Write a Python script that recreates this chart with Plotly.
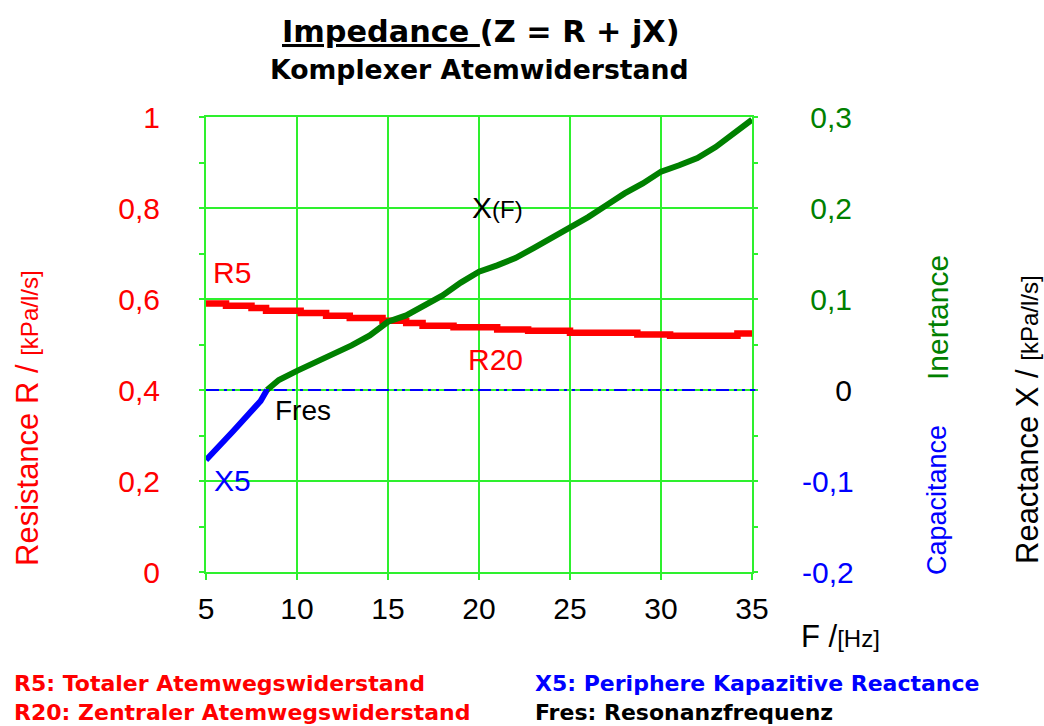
import plotly.graph_objects as go

# ---------------- data ----------------
# Resistance R (left axis, kPa/l/s), step curve
freq_r = [5.0, 6.1, 7.5, 8.3, 10.2, 11.6, 12.9, 14.7, 16.0, 16.9, 18.6, 21.0, 22.7, 25.0, 28.7, 30.5, 34.2, 35.0]
r_values = [0.590, 0.585, 0.580, 0.574, 0.569, 0.563, 0.558, 0.552, 0.547, 0.541, 0.538, 0.533, 0.530, 0.526, 0.522, 0.519, 0.524, 0.524]

# Reactance X (right axis, kPa/l/s): capacitive part (negative)
freq_x5 = [5.0, 5.5, 6.0, 6.5, 7.0, 7.5, 8.0, 8.35]
x5_values = [-0.077, -0.067, -0.056, -0.045, -0.034, -0.023, -0.012, 0.0]

# Reactance X: inertive part (positive)
freq_xf = [8.35, 9, 10, 11, 12, 13, 14, 15, 16, 17, 18, 19, 20, 21, 22, 23, 24, 25,
           26, 27, 28, 29, 30, 31, 32, 33, 34, 35]
xf_values = [0.0, 0.011, 0.021, 0.030, 0.040, 0.049, 0.060, 0.075, 0.082, 0.093, 0.104,
             0.118, 0.130, 0.137, 0.145, 0.156, 0.167, 0.178, 0.190, 0.203, 0.216,
             0.227, 0.240, 0.247, 0.255, 0.267, 0.282, 0.297]

x_ticks = [5, 10, 15, 20, 25, 30, 35]
r_ticks = [0, 0.2, 0.4, 0.6, 0.8, 1.0]
r_tick_labels = ["0", "0,2", "0,4", "0,6", "0,8", "1"]
x_ticks_right = [-0.2, -0.1, 0, 0.1, 0.2, 0.3]
x_tick_labels_right = ["-0,2", "-0,1", "\u2007\u00a0\u00a00", "\u00a00,1", "\u00a00,2", "\u00a00,3"]
x_tick_colors_right = ["#0000ff", "#0000ff", "#000000", "#008000", "#008000", "#008000"]

# ---------------- style ----------------
FONT = "Liberation Sans, Arial, sans-serif"
BOLD = "DejaVu Sans, sans-serif"
GRID = "#2ef02e"
RED = "#ff0000"
GREEN = "#008000"
BLUE = "#0000ff"

fig = go.Figure()

fig.add_trace(go.Scatter(x=freq_r, y=r_values, mode="lines", line=dict(color=RED, width=6.5, shape="hv"),
                         yaxis="y", showlegend=False))
fig.add_trace(go.Scatter(x=freq_x5, y=x5_values, mode="lines", line=dict(color=BLUE, width=6),
                         yaxis="y2", showlegend=False))
fig.add_trace(go.Scatter(x=freq_xf, y=xf_values, mode="lines", line=dict(color=GREEN, width=6),
                         yaxis="y2", showlegend=False))

# zero line of reactance
fig.add_shape(type="line", xref="x domain", x0=0, x1=1.006, yref="y2", y0=0, y1=0,
              line=dict(color=BLUE, width=2, dash="13px,5px,3px,5px,3px,5px"))

right_text = [f'<span style="color:{c}">{t}</span>' for t, c in zip(x_tick_labels_right, x_tick_colors_right)]

fig.update_layout(
    width=1044, height=726,
    margin=dict(l=206, r=292, t=117, b=154),
    paper_bgcolor="white", plot_bgcolor="white",
    font=dict(family=FONT, size=30, color="black"),
    xaxis=dict(range=[5, 35], tickvals=x_ticks, ticktext=[str(v) for v in x_ticks],
               showgrid=True, gridcolor=GRID, gridwidth=2,
               showline=True, linecolor=GRID, linewidth=2, mirror=True,
               ticks="outside", ticklen=6, tickcolor=GRID, tickwidth=2,
               ticklabelstandoff=3, zeroline=False,
               tickfont=dict(family=FONT, size=30, color="black")),
    yaxis=dict(range=[0, 1], tickvals=r_ticks, ticktext=r_tick_labels,
               showgrid=True, gridcolor=GRID, gridwidth=2,
               showline=True, linecolor=GRID, linewidth=2, mirror=True,
               ticks="outside", ticklen=5, tickcolor=GRID, tickwidth=2,
               minor=dict(dtick=0.1, ticks="outside", ticklen=5, tickcolor=GRID, tickwidth=2, showgrid=False),
               ticklabelstandoff=33, zeroline=False,
               tickfont=dict(family=FONT, size=30, color=RED)),
    yaxis2=dict(range=[-0.2, 0.3], overlaying="y", side="right", tickvals=x_ticks_right,
                ticktext=right_text, showgrid=False, zeroline=False,
                ticks="outside", ticklen=5, tickcolor=GRID, tickwidth=2,
                minor=dict(dtick=0.05, ticks="outside", ticklen=5, tickcolor=GRID, tickwidth=2, showgrid=False),
                ticklabelstandoff=38,
                tickfont=dict(family=FONT, size=30, color="black")),
)


def px_x(px):
    """pixel column -> paper x"""
    return (px - 206) / 546


def px_y(py):
    """pixel row -> paper y"""
    return (572 - py) / 455


ann = []
# titles
ann.append(dict(text="<u>Impedance </u>(Z = R + jX)", x=px_x(481), y=px_y(31),
                font=dict(family=BOLD, size=30.3, color="black", weight="bold")))
ann.append(dict(text="Komplexer Atemwiderstand", x=px_x(479), y=px_y(70),
                font=dict(family=BOLD, size=26.7, color="black", weight="bold")))
# axis titles
ann.append(dict(text='Resistance R / <span style="font-size:24px">[kPa/l/s]</span>', x=px_x(27), y=px_y(418),
                textangle=-90, font=dict(family=FONT, size=31, color=RED)))
ann.append(dict(text="Inertance", x=px_x(937), y=px_y(318), textangle=-90,
                font=dict(family=FONT, size=30, color=GREEN)))
ann.append(dict(text="Capacitance", x=px_x(937), y=px_y(500), textangle=-90,
                font=dict(family=FONT, size=27, color=BLUE)))
ann.append(dict(text='Reactance X / <span style="font-size:24px">[kPa/l/s]</span>', x=px_x(1027), y=px_y(420),
                textangle=-90, font=dict(family=FONT, size=31, color="black")))
ann.append(dict(text='F /<span style="font-size:24px">[Hz]</span>', x=px_x(840), y=px_y(636),
                font=dict(family=FONT, size=31, color="black")))
for a in ann:
    a.update(xref="paper", yref="paper", xanchor="center", yanchor="middle", showarrow=False)

# curve labels (data coordinates)
labels = [
    ("R5", 6.43, 0.659, 30, RED),
    ("R20", 20.88, 0.466, 30, RED),
    ('X<span style="font-size:24px">(F)</span>', 21.0, 0.802, 30, "black"),
    ("Fres", 10.33, 0.354, 28, "black"),
    ("X5", 6.43, 0.202, 30, BLUE),
]
for txt, xv, yv, sz, col in labels:
    ann.append(dict(text=txt, x=xv, y=yv, xref="x", yref="y", xanchor="center", yanchor="middle",
                    showarrow=False, font=dict(family=FONT, size=sz, color=col)))

# footnotes
foot = [
    ("R5: Totaler Atemwegswiderstand", 12, 683, RED),
    ("R20: Zentraler Atemwegswiderstand", 12, 712, RED),
    ("X5: Periphere Kapazitive Reactance", 533, 683, BLUE),
    ("Fres: Resonanzfrequenz", 533, 712, "black"),
]
for txt, px, py, col in foot:
    ann.append(dict(text=txt, xref="paper", yref="paper", x=px_x(px), y=px_y(py),
                    xanchor="left", yanchor="middle", showarrow=False,
                    font=dict(family=BOLD, size=22, color=col, weight="bold")))

fig.update_layout(annotations=ann)

fig.write_html("out.html")
